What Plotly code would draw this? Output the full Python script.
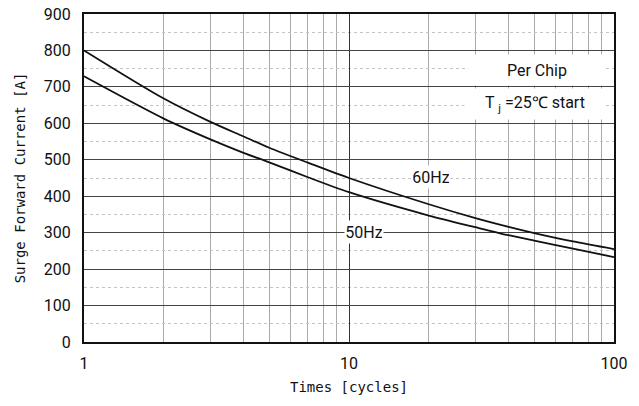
import plotly.graph_objects as go

cycles = [1, 2, 3, 4, 5, 7, 10, 20, 30, 40, 50, 70, 100]
i60 = [800, 668, 604, 564, 533, 492, 450, 378, 340, 316, 299, 276, 255]
i50 = [729, 613, 556, 519, 493, 452, 411, 347, 315, 293, 278, 256, 233]

x_ticks = [1, 10, 100]
x_minor = [2, 3, 4, 5, 6, 7, 8, 9, 20, 30, 40, 50, 60, 70, 80, 90]
y_ticks = list(range(0, 1000, 100))

FONT = "Roboto, Liberation Sans, sans-serif"
MONO = "DejaVu Sans Mono, Liberation Mono, monospace"

fig = go.Figure()
for name, ys in [("60Hz", i60), ("50Hz", i50)]:
    fig.add_trace(go.Scatter(x=cycles, y=ys, mode="lines", name=name,
                             line=dict(color="#111", width=1.8, shape="spline", smoothing=0.8),
                             showlegend=False, hoverinfo="x+y"))

# page body has an 8px default margin; size the figure to fit the 639x406 window
fig.update_layout(
    width=631, height=398,
    margin=dict(l=76, r=25, t=6, b=64),
    paper_bgcolor="white", plot_bgcolor="white",
    font=dict(family=FONT, size=16, color="#111"),
)
fig.update_xaxes(
    type="log", range=[0, 2], tickvals=x_ticks, ticktext=[str(v) for v in x_ticks],
    showgrid=True, gridcolor="#333", gridwidth=1,
    minor=dict(tickvals=x_minor, showgrid=True, gridcolor="#aaa", gridwidth=1, ticklen=0),
    showline=True, linecolor="#111", linewidth=2, mirror=True, ticks="",
    title=dict(text="Times [cycles]", font=dict(family=MONO, size=14), standoff=10),
    tickfont=dict(size=16), ticklabelstandoff=6, zeroline=False, automargin=False,
    ticklabeloverflow="allow",
)
fig.update_yaxes(
    range=[0, 900], tickvals=y_ticks,
    showgrid=True, gridcolor="#444", gridwidth=1,
    minor=dict(dtick=50, showgrid=True, gridcolor="#c4c4c4", griddash="dot", gridwidth=1, ticklen=0),
    showline=True, linecolor="#111", linewidth=2, mirror=True, ticks="",
    title=dict(text="Surge Forward Current [A]", font=dict(family=MONO, size=14), standoff=15),
    tickfont=dict(size=16), ticklabelstandoff=8, zeroline=False, automargin=False,
    ticklabeloverflow="allow",
)

ann_font = dict(family=FONT, size=16, color="#111")
fig.add_annotation(x=1.71, y=747, xref="x", yref="y", text="Per Chip", showarrow=False,
                   bgcolor="white", width=134, height=28, font=ann_font)
fig.add_annotation(x=1.703, y=652, xref="x", yref="y", text="T <sub>j</sub> =25℃ start",
                   showarrow=False, bgcolor="white", width=138, height=28, font=ann_font)
fig.add_annotation(x=1.311, y=452, xref="x", yref="y", text="60Hz", showarrow=False,
                   bgcolor="white", width=36, height=20, font=ann_font)
fig.add_annotation(x=1.055, y=302, xref="x", yref="y", text="50Hz", showarrow=False,
                   bgcolor="white", width=36, height=20, font=ann_font)

fig.write_html("out.html")
